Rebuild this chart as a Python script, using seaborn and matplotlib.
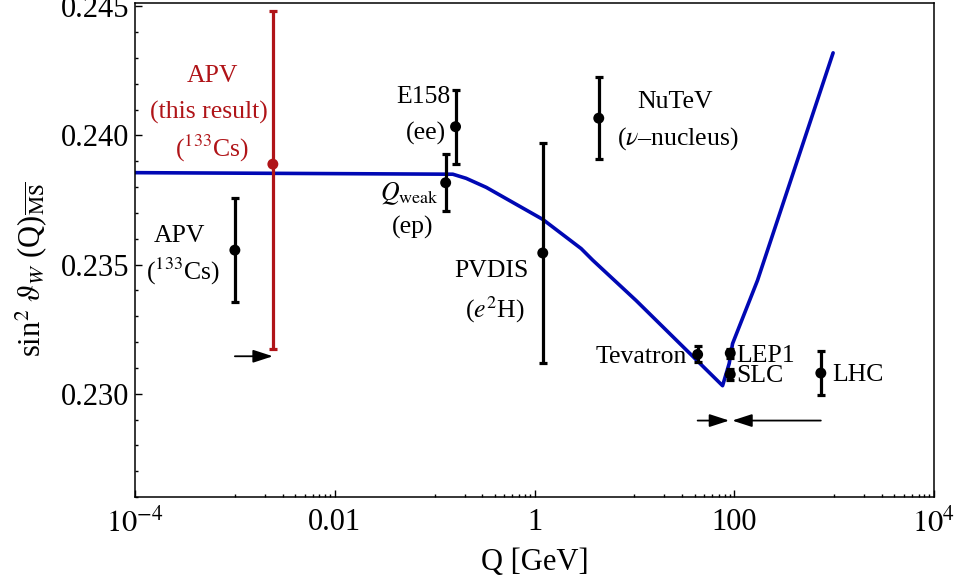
import matplotlib
matplotlib.use("Agg")
import matplotlib.pyplot as plt
import seaborn as sns
from matplotlib.ticker import FixedLocator, MultipleLocator, FuncFormatter

# ---------------------------------------------------------------------------
# Data
# ---------------------------------------------------------------------------
# running of the weak mixing angle (MS-bar scheme)
CURVE_Q = [1e-4, 0.152, 0.207, 0.329, 1.21, 2.93, 3.83, 10.4, 76.4, 89.0, 96.2, 171.0, 977.0]
CURVE_S2W = [0.23856, 0.23850, 0.23834, 0.23799, 0.23675, 0.23562, 0.23517,
             0.23361, 0.23031, 0.23117, 0.23194, 0.23439, 0.24320]

# measurements (black)
EXP_NAMES = ["APV", "Qweak", "E158", "PVDIS", "NuTeV", "Tevatron", "LEP1", "SLC", "LHC"]
EXP_Q = [0.001, 0.129, 0.162, 1.21, 4.4, 43.0, 91.2, 91.2, 736.0]
EXP_S2W = [0.23556, 0.23817, 0.24034, 0.23545, 0.24067, 0.23152, 0.23157, 0.23075, 0.23080]
EXP_ERR = [0.0020, 0.0011, 0.00144, 0.00427, 0.0016, 0.00031, 0.00018, 0.00022, 0.00086]

# this result (red)
NEW_Q = [0.0024]
NEW_S2W = [0.23889]
NEW_ERR_LO = [0.00714]
NEW_ERR_HI = [0.00594]

# arrows: (Q start, Q end, sin2)
ARROWS = [(0.001, 0.0024, 0.23145),
          (43.0, 89.0, 0.22896),
          (736.0, 95.5, 0.22896)]

# labels: (text, Q, sin2 baseline, ha, colour)
RED = "#b01418"
LABELS = [
    ("APV", 6.0e-4, 0.24209, "center", RED),
    ("(this result)", 5.5e-4, 0.24067, "center", RED),
    (r"($^{133}$Cs)", 5.9e-4, 0.23918, "center", RED),
    ("E158", 0.0764, 0.24127, "center", "black"),
    ("(ee)", 0.0826, 0.23985, "center", "black"),
    (r"$Q_{\rm weak}$", 0.0554, 0.23750, "center", "black"),
    ("(ep)", 0.0598, 0.23621, "center", "black"),
    ("APV", 2.77e-4, 0.23588, "center", "black"),
    (r"($^{133}$Cs)", 3.0e-4, 0.23442, "center", "black"),
    ("PVDIS", 0.369, 0.23452, "center", "black"),
    (r"($e^2$H)", 0.398, 0.23295, "center", "black"),
    ("NuTeV", 25.7, 0.24106, "center", "black"),
    (r"($\nu$–nucleus)", 27.5, 0.23963, "center", "black"),
    ("Tevatron", 33.9, 0.23119, "right", "black"),
    ("LEP1", 104.7, 0.23123, "left", "black"),
    ("SLC", 104.7, 0.23045, "left", "black"),
    ("LHC", 948.0, 0.23048, "left", "black"),
]

X_MAJOR = [1e-4, 1e-2, 1.0, 1e2, 1e4]
X_MAJOR_LABELS = [r"$10^{-4}$", "0.01", "1", "100", r"$10^{4}$"]
Y_MAJOR = [0.230, 0.235, 0.240, 0.245]

# ---------------------------------------------------------------------------
# Style
# ---------------------------------------------------------------------------
sns.set_theme(style="ticks")
plt.rcParams["font.family"] = ["Liberation Serif", "DejaVu Serif"]
plt.rcParams["mathtext.fontset"] = "stix"
for key in ("text.color", "axes.labelcolor", "xtick.color", "ytick.color",
            "axes.edgecolor"):
    plt.rcParams[key] = "black"

fig = plt.figure(figsize=(9.59, 5.85), dpi=100)
ax = fig.add_axes([135 / 959, 1 - 497 / 585, 799 / 959, 494 / 585])
ax.set_xscale("log")

# running curve
sns.lineplot(x=CURVE_Q, y=CURVE_S2W, ax=ax, color="#0008b4", lw=2.6,
             sort=False, zorder=2)

# measurements
ax.errorbar(EXP_Q, EXP_S2W, yerr=EXP_ERR, fmt="none", ecolor="black",
            elinewidth=2.3, capsize=3.2, capthick=2.3, zorder=3)
sns.scatterplot(x=EXP_Q, y=EXP_S2W, ax=ax, color="black", s=62,
                edgecolor="none", zorder=4)

ax.errorbar(NEW_Q, NEW_S2W, yerr=[NEW_ERR_LO, NEW_ERR_HI], fmt="none",
            ecolor=RED, elinewidth=2.3, capsize=3.2, capthick=2.3, zorder=3)
sns.scatterplot(x=NEW_Q, y=NEW_S2W, ax=ax, color=RED, s=62,
                edgecolor="none", zorder=4)

for q0, q1, s in ARROWS:
    ax.annotate("", xy=(q1, s), xytext=(q0, s),
                arrowprops=dict(arrowstyle="-|>,head_length=0.4,head_width=0.13",
                                color="black", lw=1.3, mutation_scale=30,
                                shrinkA=0, shrinkB=0))

for text, q, s, ha, col in LABELS:
    ax.text(q, s, text, ha=ha, va="baseline", color=col, fontsize=18.5)

# axes
ax.set_xlim(1e-4, 1e4)
ax.set_ylim(0.226, 0.24513)
ax.xaxis.set_major_locator(FixedLocator(X_MAJOR))
ax.set_xticklabels(X_MAJOR_LABELS)
minor = [j * 10.0 ** k for k in (-3, -1, 1, 3) for j in range(1, 10)]
ax.xaxis.set_minor_locator(FixedLocator(minor))
ax.xaxis.set_minor_formatter(FuncFormatter(lambda v, p: ""))
ax.yaxis.set_major_locator(FixedLocator(Y_MAJOR))
ax.yaxis.set_major_formatter(FuncFormatter(lambda v, p: f"{v:.3f}"))
ax.yaxis.set_minor_locator(MultipleLocator(0.001))

ax.tick_params(which="both", direction="in", top=False, right=False,
               labelsize=22, width=1.0, color="black", labelcolor="black")
ax.tick_params(which="major", length=5)
ax.tick_params(which="minor", length=2.5)
ax.tick_params(axis="x", pad=8)
ax.tick_params(axis="y", pad=4)
for sp in ax.spines.values():
    sp.set_linewidth(1.1)
    sp.set_color("black")

ax.set_xlabel("Q [GeV]", fontsize=22, color="black")
ax.set_ylabel(r"sin$^2$ $\vartheta_W$ (Q)$_{\overline{\rm MS}}$", fontsize=22,
              color="black")
ax.xaxis.set_label_coords(0.5, -0.103)
ax.yaxis.set_label_coords(-0.108, 0.46)

fig.savefig("out.png", dpi=100)
